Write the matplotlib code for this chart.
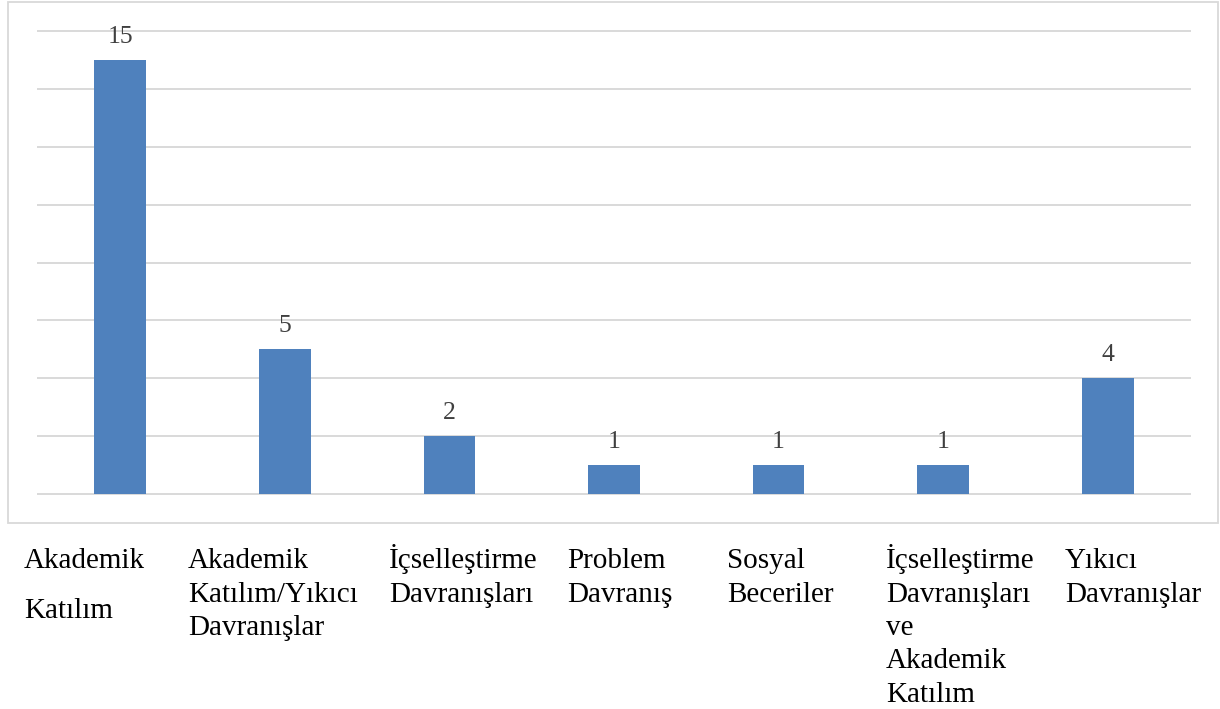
import matplotlib.pyplot as plt
from matplotlib.patches import Rectangle

categories = [
    "Akademik\nKatılım",
    "Akademik\nKatılım/Yıkıcı\nDavranışlar",
    "İçselleştirme\nDavranışları",
    "Problem\nDavranış",
    "Sosyal\nBeceriler",
    "İçselleştirme\nDavranışları\nve\nAkademik\nKatılım",
    "Yıkıcı\nDavranışlar",
]
counts = [15, 5, 2, 1, 1, 1, 4]

# layout of the category labels under the chart box (pixels)
label_x_px = [24, 188, 389, 567, 727, 886, 1065]
line_pitch_px = [50, 33.5, 33.5, 33.5, 33.5, 33.5, 33.5]
first_baseline_px = 568

W, H = 1220, 709
BAR_COLOR = '#4f81bd'
GRID_COLOR = '#d9d9d9'

plt.rcParams['font.family'] = ['Liberation Serif', 'DejaVu Serif']

fig = plt.figure(figsize=(W / 100, H / 100), dpi=100)

# chart box border
fig.patches.append(Rectangle((8 / W, 1 - 522.5 / H), 1210 / W, 521 / H,
                             transform=fig.transFigure, fill=False,
                             edgecolor=GRID_COLOR, linewidth=1.3))

ax = fig.add_axes([38 / W, 1 - 494 / H, 1152 / W, 463 / H])
x = range(len(counts))
bars = ax.bar(x, counts, width=0.315, color=BAR_COLOR, zorder=3)

for rect, val in zip(bars, counts):
    ax.annotate(str(val), (rect.get_x() + rect.get_width() / 2, rect.get_height()),
                xytext=(0, 12.3), textcoords='offset points',
                ha='center', va='baseline', fontsize=18.5, color='#404040')

ax.set_xlim(-0.5, len(counts) - 0.5)
ax.set_ylim(0, 16)
ax.set_yticks(range(0, 17, 2))
ax.yaxis.grid(True, color=GRID_COLOR, linewidth=1.4)
for gl in ax.get_ygridlines():
    gl.set_clip_on(False)
ax.set_axisbelow(True)
ax.tick_params(left=False, bottom=False, labelleft=False, labelbottom=False)
for s in ax.spines.values():
    s.set_visible(False)

for lx, text, pitch in zip(label_x_px, categories, line_pitch_px):
    for i, line in enumerate(text.split('\n')):
        y = first_baseline_px + i * pitch
        fig.text(lx / W, 1 - y / H, line, ha='left', va='baseline',
                 fontsize=21, color='black')

fig.savefig('out.png', dpi=100)
